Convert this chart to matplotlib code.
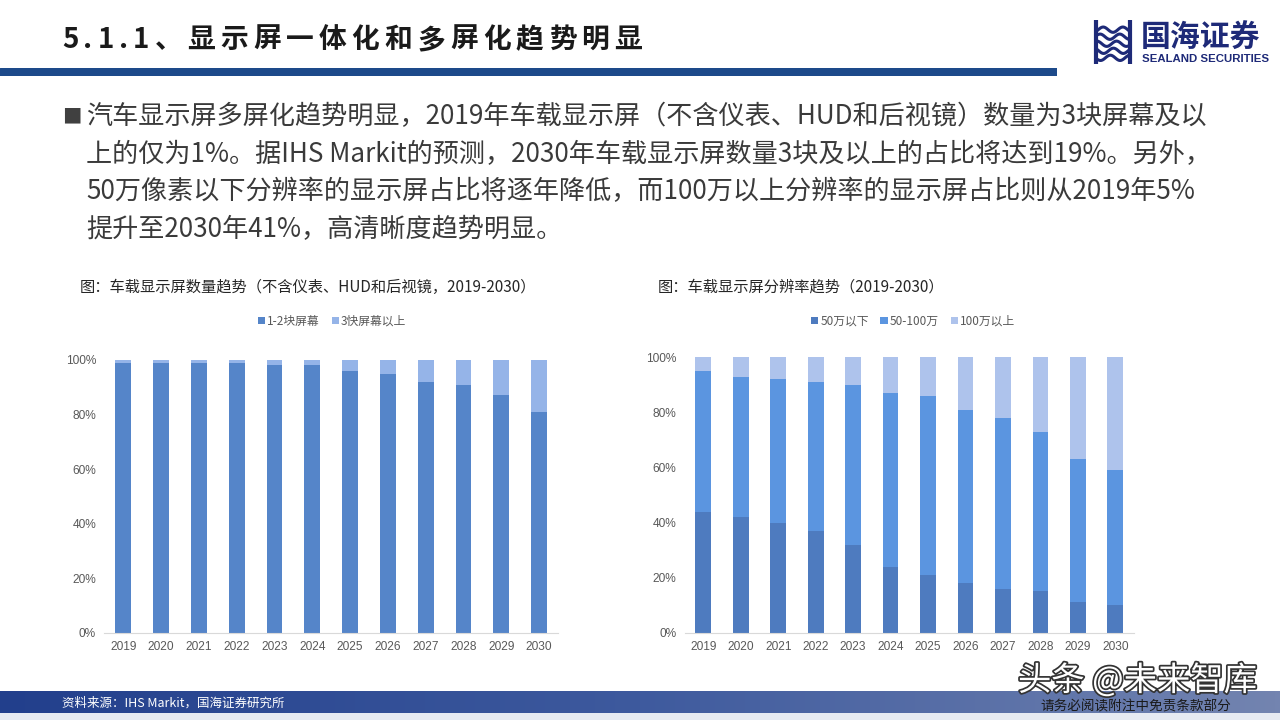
import numpy as np
import matplotlib
matplotlib.use('Agg')
import matplotlib.pyplot as plt
import matplotlib.patheffects as pe
from matplotlib.font_manager import findfont, FontProperties
from matplotlib.ft2font import FT2Font

plt.rcParams['font.family'] = ['Noto Sans CJK SC', 'DejaVu Sans']

# data
years = ['2019', '2020', '2021', '2022', '2023', '2024', '2025', '2026', '2027', '2028', '2029', '2030']

# left chart: number of screens per car (share)
screens_1_2 = [99, 99, 99, 99, 98, 98, 96, 95, 92, 91, 87, 81]
screens_3_plus = [1, 1, 1, 1, 2, 2, 4, 5, 8, 9, 13, 19]
screen_labels = ['1-2块屏幕', '3快屏幕以上']

# right chart: resolution share
res_below_50 = [44, 42, 40, 37, 32, 24, 21, 18, 16, 15, 11, 10]
res_50_100 = [51, 51, 52, 54, 58, 63, 65, 63, 62, 58, 52, 49]
res_above_100 = [5, 7, 8, 9, 10, 13, 14, 19, 22, 27, 37, 41]
res_labels = ['50万以下', '50-100万', '100万以上']

W, H = 1280, 720
fig = plt.figure(figsize=(12.8, 7.2), dpi=100)
fig.patch.set_facecolor('white')


def box(x0, y0, x1, y1):
    # pixel box (top-left origin) -> figure fraction rect
    return [x0 / W, 1 - y1 / H, (x1 - x0) / W, (y1 - y0) / H]


def fx(x):
    return x / W


def fy(y):
    return 1 - y / H


def spaced_text(x0, x1, y, s, size, weight='normal', **kw):
    # lay characters out one by one so the string fills x0..x1 (letter spacing)
    path = findfont(FontProperties(family='Noto Sans CJK SC', weight=weight))
    font = FT2Font(path)
    font.set_size(size, 100)
    advs = [font.load_char(ord(c)).linearHoriAdvance / 65536 for c in s]
    gap = (x1 - x0 - sum(advs)) / (len(s) - 1)
    x = x0
    for c, a in zip(s, advs):
        fig.text(fx(x), fy(y), c, fontsize=size, fontweight=weight, va='center', ha='left', **kw)
        x += a + gap


# ---- header ----
spaced_text(62, 642, 40, '5.1.1、显示屏一体化和多屏化趋势明显', 20, weight='bold', color='#1a1a1a')
rule = fig.add_axes(box(0, 68, 1057, 76))
rule.axis('off')
rule.add_patch(plt.Rectangle((0, 0), 1, 1, color='#1D4A8A', transform=rule.transAxes))

# logo
logo = fig.add_axes(box(1092, 20, 1134, 64))
logo.axis('off')
logo.set_xlim(0, 1)
logo.set_ylim(0, 1)
t = np.linspace(0, 1, 60)
for k, yy in enumerate([0.78, 0.62, 0.46, 0.30, 0.14]):
    logo.plot(0.15 + 0.7 * t, yy + 0.06 * np.sin(t * 2 * np.pi * 1.5 + k), color='#1E2A78', lw=2.2)
logo.plot([0.1, 0.1], [0.05, 0.95], color='#1E2A78', lw=3)
logo.plot([0.9, 0.9], [0.05, 0.95], color='#1E2A78', lw=3)
fig.text(fx(1141), fy(38), '国海证券', fontsize=21.5, fontweight='bold', color='#1E2A78',
         va='center', ha='left')
fig.text(fx(1142), fy(59), 'SEALAND SECURITIES', fontsize=8.2, fontweight='bold',
         color='#1E2A78', va='center', ha='left', family=['Liberation Sans', 'DejaVu Sans'])

# ---- paragraph ----
para = [
    '汽车显示屏多屏化趋势明显，2019年车载显示屏（不含仪表、HUD和后视镜）数量为3块屏幕及以',
    '上的仅为1%。据IHS Markit的预测，2030年车载显示屏数量3块及以上的占比将达到19%。另外，',
    '50万像素以下分辨率的显示屏占比将逐年降低，而100万以上分辨率的显示屏占比则从2019年5%',
    '提升至2030年41%，高清晰度趋势明显。',
]
fig.text(fx(62), fy(117), '■', fontsize=14, color='#404040', va='center', ha='left')
for i, line in enumerate(para):
    fig.text(fx(86), fy(117 + i * 37.5), line, fontsize=18.8, color='#3a3a3a',
             va='center', ha='left')

# ---- charts ----
fig.text(fx(80), fy(287), '图：车载显示屏数量趋势（不含仪表、HUD和后视镜，2019-2030）',
         fontsize=11, color='#262626', va='center', ha='left')
fig.text(fx(658), fy(287), '图：车载显示屏分辨率趋势（2019-2030）',
         fontsize=11, color='#262626', va='center', ha='left')

x = np.arange(len(years))
bw = 0.42


def style_axes(ax):
    ax.set_xlim(-0.5, len(years) - 0.5)
    ax.set_ylim(0, 100)
    ax.set_yticks([0, 20, 40, 60, 80, 100])
    ax.set_yticklabels(['0%', '20%', '40%', '60%', '80%', '100%'])
    ax.set_xticks(x)
    ax.set_xticklabels(years)
    for s in ['top', 'right', 'left']:
        ax.spines[s].set_visible(False)
    ax.spines['bottom'].set_color('#D9D9D9')
    ax.tick_params(length=0, labelsize=8.6, colors='#595959')
    ax.tick_params(axis='y', pad=6)
    ax.tick_params(axis='x', pad=6)
    for lab in ax.get_xticklabels() + ax.get_yticklabels():
        lab.set_family(['Liberation Sans', 'DejaVu Sans'])


ax1 = fig.add_axes(box(104.4, 360, 558, 632.7))
ax1.bar(x, screens_1_2, bw, color='#5585C9', label=screen_labels[0])
ax1.bar(x, screens_3_plus, bw, bottom=screens_1_2, color='#95B4E8', label=screen_labels[1])
style_axes(ax1)
ax1.legend(loc='center', bbox_to_anchor=(fx(332), fy(321)), bbox_transform=fig.transFigure,
           ncol=2, frameon=False, fontsize=8.5, handlelength=0.6, handleheight=0.6,
           handletextpad=0.2, columnspacing=1.0, labelcolor='#595959')

ax2 = fig.add_axes(box(684.6, 357.3, 1134, 632.7))
b1 = np.array(res_below_50)
b2 = b1 + np.array(res_50_100)
ax2.bar(x, res_below_50, bw, color='#4E7BBF', label=res_labels[0])
ax2.bar(x, res_50_100, bw, bottom=b1, color='#5B95E0', label=res_labels[1])
ax2.bar(x, res_above_100, bw, bottom=b2, color='#AEC3EC', label=res_labels[2])
style_axes(ax2)
ax2.legend(loc='center', bbox_to_anchor=(fx(913), fy(321)), bbox_transform=fig.transFigure,
           ncol=3, frameon=False, fontsize=8.5, handlelength=0.6, handleheight=0.6,
           handletextpad=0.2, columnspacing=1.0, labelcolor='#595959')

# ---- footer ----
band = fig.add_axes(box(0, 691, 1280, 713))
band.axis('off')
grad = np.linspace(0, 1, 256).reshape(1, -1)
cmap = matplotlib.colors.LinearSegmentedColormap.from_list('band', ['#223F8C', '#3E5A9E', '#7384B0'])
band.imshow(grad, aspect='auto', cmap=cmap, extent=(0, 1, 0, 1))
strip = fig.add_axes(box(0, 713, 1280, 720))
strip.axis('off')
strip.add_patch(plt.Rectangle((0, 0), 1, 1, color='#E6EAF2', transform=strip.transAxes))

fig.text(fx(62), fy(703), '资料来源：IHS Markit，国海证券研究所', fontsize=9, color='white',
         va='center', ha='left')
fig.text(fx(1018), fy(681), '头条 @未来智库', fontsize=24, color='white', va='center', ha='left',
         path_effects=[pe.withStroke(linewidth=2.5, foreground='#333333')])
fig.text(fx(1040), fy(706), '请务必阅读附注中免责条款部分', fontsize=9.8, color='#1a1a1a',
         va='center', ha='left')

fig.savefig('out.png', dpi=100)
